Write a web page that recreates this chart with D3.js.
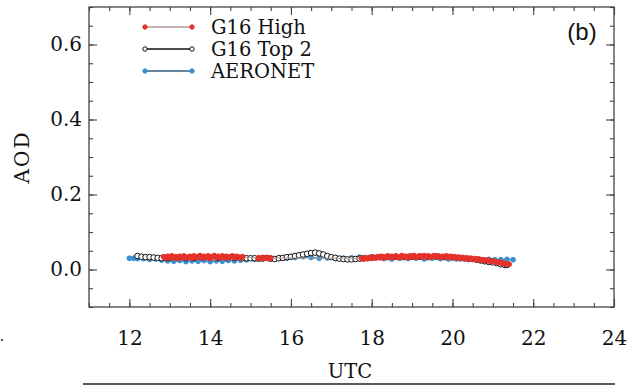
<!DOCTYPE html>
<html>
<head>
<meta charset="utf-8">
<script src="https://cdn.jsdelivr.net/npm/d3@7"></script>
<style>
  body { margin: 0; background: #fff; }
  svg { display: block; }
</style>
</head>
<body>
<svg id="chart"></svg>
<script>
// tick labels
const xTicks = [12, 14, 16, 18, 20, 22, 24]
const yTicks = [0.0, 0.2, 0.4, 0.6]

// AERONET
const aeronetTime = [12.00, 12.10, 12.20, 12.35, 12.50, 12.65, 12.80, 12.95, 13.10, 13.25, 13.40, 13.55, 13.70, 13.85, 14.00, 14.15, 14.30, 14.45, 14.60, 14.75, 14.90, 15.10, 15.30, 15.50, 15.70, 15.90, 16.10, 16.30, 16.50, 16.70, 16.90, 17.10, 17.30, 17.50, 17.70, 17.90, 18.10, 18.30, 18.50, 18.70, 18.90, 19.10, 19.30, 19.50, 19.70, 19.90, 20.10, 20.30, 20.50, 20.70, 20.90, 21.05, 21.20, 21.35, 21.50]
const aeronetAod = [0.030, 0.030, 0.029, 0.029, 0.027, 0.028, 0.025, 0.023, 0.022, 0.024, 0.021, 0.023, 0.022, 0.024, 0.021, 0.023, 0.022, 0.024, 0.023, 0.025, 0.026, 0.027, 0.028, 0.029, 0.031, 0.030, 0.032, 0.034, 0.032, 0.030, 0.031, 0.029, 0.030, 0.031, 0.033, 0.030, 0.031, 0.029, 0.028, 0.030, 0.029, 0.030, 0.028, 0.030, 0.029, 0.028, 0.028, 0.028, 0.027, 0.026, 0.027, 0.026, 0.026, 0.027, 0.026]

// G16 Top 2
const top2Time = [12.2, 12.3, 12.4, 12.5, 12.6, 12.7, 12.8, 12.9, 13.0, 13.2, 13.4, 13.6, 13.8, 14.0, 14.2, 14.4, 14.6, 14.8, 14.9, 15.0, 15.1, 15.2, 15.3, 15.4, 15.5, 15.6, 15.7, 15.8, 15.9, 16.0, 16.1, 16.2, 16.3, 16.4, 16.5, 16.6, 16.7, 16.8, 16.9, 17.0, 17.1, 17.2, 17.3, 17.4, 17.5, 17.6, 17.7, 17.8, 18.0, 18.2, 18.4, 18.6, 18.8, 19.0, 19.2, 19.4, 19.6, 19.8, 20.0, 20.2, 20.4, 20.6, 20.7, 20.8, 20.9, 21.0, 21.1, 21.2, 21.3, 21.35]
const top2Aod = [0.036, 0.034, 0.033, 0.033, 0.032, 0.031, 0.030, 0.030, 0.031, 0.031, 0.030, 0.031, 0.032, 0.031, 0.031, 0.032, 0.031, 0.030, 0.030, 0.030, 0.030, 0.029, 0.030, 0.031, 0.029, 0.028, 0.030, 0.031, 0.033, 0.034, 0.036, 0.038, 0.040, 0.042, 0.044, 0.045, 0.043, 0.040, 0.036, 0.033, 0.031, 0.029, 0.028, 0.027, 0.027, 0.028, 0.029, 0.030, 0.032, 0.033, 0.033, 0.034, 0.033, 0.034, 0.034, 0.033, 0.034, 0.033, 0.032, 0.030, 0.028, 0.026, 0.024, 0.022, 0.020, 0.019, 0.017, 0.014, 0.012, 0.012]

// G16 High
const highTime = [12.85, 12.90, 12.95, 13.00, 13.05, 13.10, 13.15, 13.20, 13.25, 13.30, 13.35, 13.40, 13.45, 13.50, 13.55, 13.60, 13.65, 13.70, 13.75, 13.80, 13.85, 13.90, 13.95, 14.00, 14.05, 14.10, 14.15, 14.20, 14.25, 14.30, 14.35, 14.40, 14.45, 14.50, 14.55, 14.60, 14.65, 14.70, 14.75, 14.80, 15.20, 15.25, 15.30, 15.35, 15.40, 15.45, 15.50, 17.75, 17.80, 17.85, 17.90, 17.95, 18.00, 18.05, 18.10, 18.15, 18.20, 18.25, 18.30, 18.35, 18.40, 18.45, 18.50, 18.55, 18.60, 18.65, 18.70, 18.75, 18.80, 18.85, 18.90, 18.95, 19.00, 19.05, 19.10, 19.15, 19.20, 19.25, 19.30, 19.35, 19.40, 19.45, 19.50, 19.55, 19.60, 19.65, 19.70, 19.75, 19.80, 19.85, 19.90, 19.95, 20.00, 20.05, 20.10, 20.15, 20.20, 20.25, 20.30, 20.35, 20.40, 20.45, 20.50, 20.55, 20.60, 20.65, 20.70, 20.75, 20.80, 20.85, 20.90, 20.95, 21.00, 21.05, 21.10, 21.15, 21.20, 21.25, 21.30, 21.35, 21.40]
const highAod = [0.034, 0.031, 0.035, 0.032, 0.036, 0.031, 0.034, 0.030, 0.035, 0.032, 0.036, 0.031, 0.033, 0.035, 0.031, 0.036, 0.032, 0.034, 0.037, 0.031, 0.035, 0.032, 0.036, 0.030, 0.034, 0.037, 0.032, 0.035, 0.031, 0.036, 0.033, 0.035, 0.031, 0.034, 0.036, 0.032, 0.035, 0.033, 0.031, 0.034, 0.031, 0.029, 0.032, 0.030, 0.031, 0.029, 0.031, 0.030, 0.028, 0.031, 0.029, 0.032, 0.030, 0.033, 0.031, 0.034, 0.032, 0.035, 0.031, 0.034, 0.036, 0.032, 0.035, 0.033, 0.036, 0.032, 0.034, 0.037, 0.033, 0.035, 0.032, 0.036, 0.034, 0.037, 0.033, 0.035, 0.036, 0.033, 0.037, 0.034, 0.036, 0.033, 0.035, 0.037, 0.034, 0.036, 0.033, 0.035, 0.034, 0.036, 0.033, 0.035, 0.032, 0.034, 0.031, 0.033, 0.030, 0.032, 0.029, 0.031, 0.028, 0.030, 0.027, 0.029, 0.026, 0.028, 0.025, 0.026, 0.024, 0.025, 0.023, 0.024, 0.022, 0.021, 0.020, 0.019, 0.018, 0.017, 0.016, 0.015, 0.014]

const series = [
    { name: 'AERONET', time: aeronetTime, aod: aeronetAod, line: '#2f5f86', fill: '#3a8fd0', stroke: '#3a8fd0', r: 2.4 },
    { name: 'G16 Top 2', time: top2Time, aod: top2Aod, line: '#111', fill: '#fff', stroke: '#111', r: 2.8 },
    { name: 'G16 High', time: highTime, aod: highAod, line: '#b09c98', fill: '#e5312b', stroke: '#e5312b', r: 2.5 }
]
const legendOrder = ['G16 High', 'G16 Top 2', 'AERONET']

const fullWidth = 636
const fullHeight = 386
const margin = { top: 7, right: 22, bottom: 79, left: 89 }
const width = fullWidth - margin.left - margin.right
const height = fullHeight - margin.top - margin.bottom

const svg = d3.select('#chart')
    .attr('width', fullWidth)
    .attr('height', fullHeight)

const g = svg.append('g')
    .attr('transform', `translate(${margin.left}, ${margin.top})`)

const xScale = d3.scaleLinear().domain([11, 24]).range([0, width])
const yScale = d3.scaleLinear().domain([-0.1, 0.7]).range([height, 0])

const serif = 'DejaVu Serif'
const axisColor = '#444'

// minor ticks on all four sides
const xMinor = d3.range(11, 24.01, 0.5)
const yMinor = d3.range(-0.1, 0.701, 0.05)

function styleAxis(sel) {
    sel.select('.domain').remove()
    sel.selectAll('line').attr('stroke', axisColor).attr('stroke-width', 1.1)
    sel.selectAll('text').attr('font-family', serif).attr('font-size', '20px').attr('fill', '#111')
}

g.append('g').attr('transform', `translate(0, ${height})`)
    .call(d3.axisBottom(xScale).tickValues(xMinor).tickSize(-4).tickFormat(''))
    .call(styleAxis)
g.append('g')
    .call(d3.axisTop(xScale).tickValues(xMinor).tickSize(-4).tickFormat(''))
    .call(styleAxis)
g.append('g')
    .call(d3.axisLeft(yScale).tickValues(yMinor).tickSize(-4).tickFormat(''))
    .call(styleAxis)
g.append('g').attr('transform', `translate(${width}, 0)`)
    .call(d3.axisRight(yScale).tickValues(yMinor).tickSize(-4).tickFormat(''))
    .call(styleAxis)

// major ticks
g.append('g').attr('transform', `translate(0, ${height})`)
    .call(d3.axisBottom(xScale).tickValues(xTicks).tickSize(-8).tickPadding(24).tickFormat(d3.format('d')))
    .call(styleAxis)
g.append('g')
    .call(d3.axisTop(xScale).tickValues(xTicks).tickSize(-8).tickFormat(''))
    .call(styleAxis)
g.append('g')
    .call(d3.axisLeft(yScale).tickValues(yTicks).tickSize(-8).tickPadding(7).tickFormat(d3.format('.1f')))
    .call(styleAxis)
g.append('g').attr('transform', `translate(${width}, 0)`)
    .call(d3.axisRight(yScale).tickValues(yTicks).tickSize(-8).tickFormat(''))
    .call(styleAxis)

// frame
g.append('rect')
    .attr('width', width)
    .attr('height', height)
    .attr('fill', 'none')
    .attr('stroke', axisColor)
    .attr('stroke-width', 1.3)

// data
const line = d3.line()
    .x(d => xScale(d[0]))
    .y(d => yScale(d[1]))

series.forEach(s => {
    const pts = s.time.map((t, i) => [t, s.aod[i]])
    const sg = g.append('g')
    sg.append('path')
        .datum(pts)
        .attr('d', line)
        .attr('fill', 'none')
        .attr('stroke', s.line)
        .attr('stroke-width', 1)
    sg.selectAll('circle')
        .data(pts)
        .enter().append('circle')
            .attr('cx', d => xScale(d[0]))
            .attr('cy', d => yScale(d[1]))
            .attr('r', s.r)
            .attr('fill', s.fill)
            .attr('stroke', s.stroke)
            .attr('stroke-width', 1)
})

// legend
const legend = svg.append('g').attr('transform', 'translate(145, 27)')
legendOrder.forEach((name, i) => {
    const s = series.find(d => d.name === name)
    const row = legend.append('g').attr('transform', `translate(0, ${i * 22})`)
    row.append('line')
        .attr('x1', 0).attr('x2', 47)
        .attr('stroke', s.line)
        .attr('stroke-width', 1.3)
    ;[0, 47].forEach(cx => {
        row.append('circle')
            .attr('cx', cx)
            .attr('r', 2.2)
            .attr('fill', s.fill)
            .attr('stroke', s.stroke)
    })
    row.append('text')
        .attr('x', 66)
        .attr('y', 7)
        .attr('font-family', serif)
        .attr('font-size', '19.5px')
        .attr('fill', '#111')
        .text(name)
})

// panel label
svg.append('text')
    .attr('x', 582)
    .attr('y', 40)
    .attr('text-anchor', 'middle')
    .attr('font-family', 'Liberation Sans')
    .attr('font-size', '24px')
    .attr('fill', '#111')
    .text('(b)')

// axis titles
svg.append('text')
    .attr('transform', 'translate(29, 157) rotate(-90)')
    .attr('text-anchor', 'middle')
    .attr('font-family', serif)
    .attr('font-size', '20px')
    .attr('letter-spacing', '2px')
    .attr('fill', '#111')
    .text('AOD')

svg.append('text')
    .attr('x', 350)
    .attr('y', 378)
    .attr('text-anchor', 'middle')
    .attr('font-family', serif)
    .attr('font-size', '19.5px')
    .attr('fill', '#111')
    .text('UTC')

// rule under the figure
svg.append('line')
    .attr('x1', 83).attr('x2', 615)
    .attr('y1', 384).attr('y2', 384)
    .attr('stroke', '#222')
    .attr('stroke-width', 1.5)

svg.append('rect')
    .attr('x', 1).attr('y', 339)
    .attr('width', 2).attr('height', 2)
    .attr('fill', '#555')
</script>
</body>
</html>
